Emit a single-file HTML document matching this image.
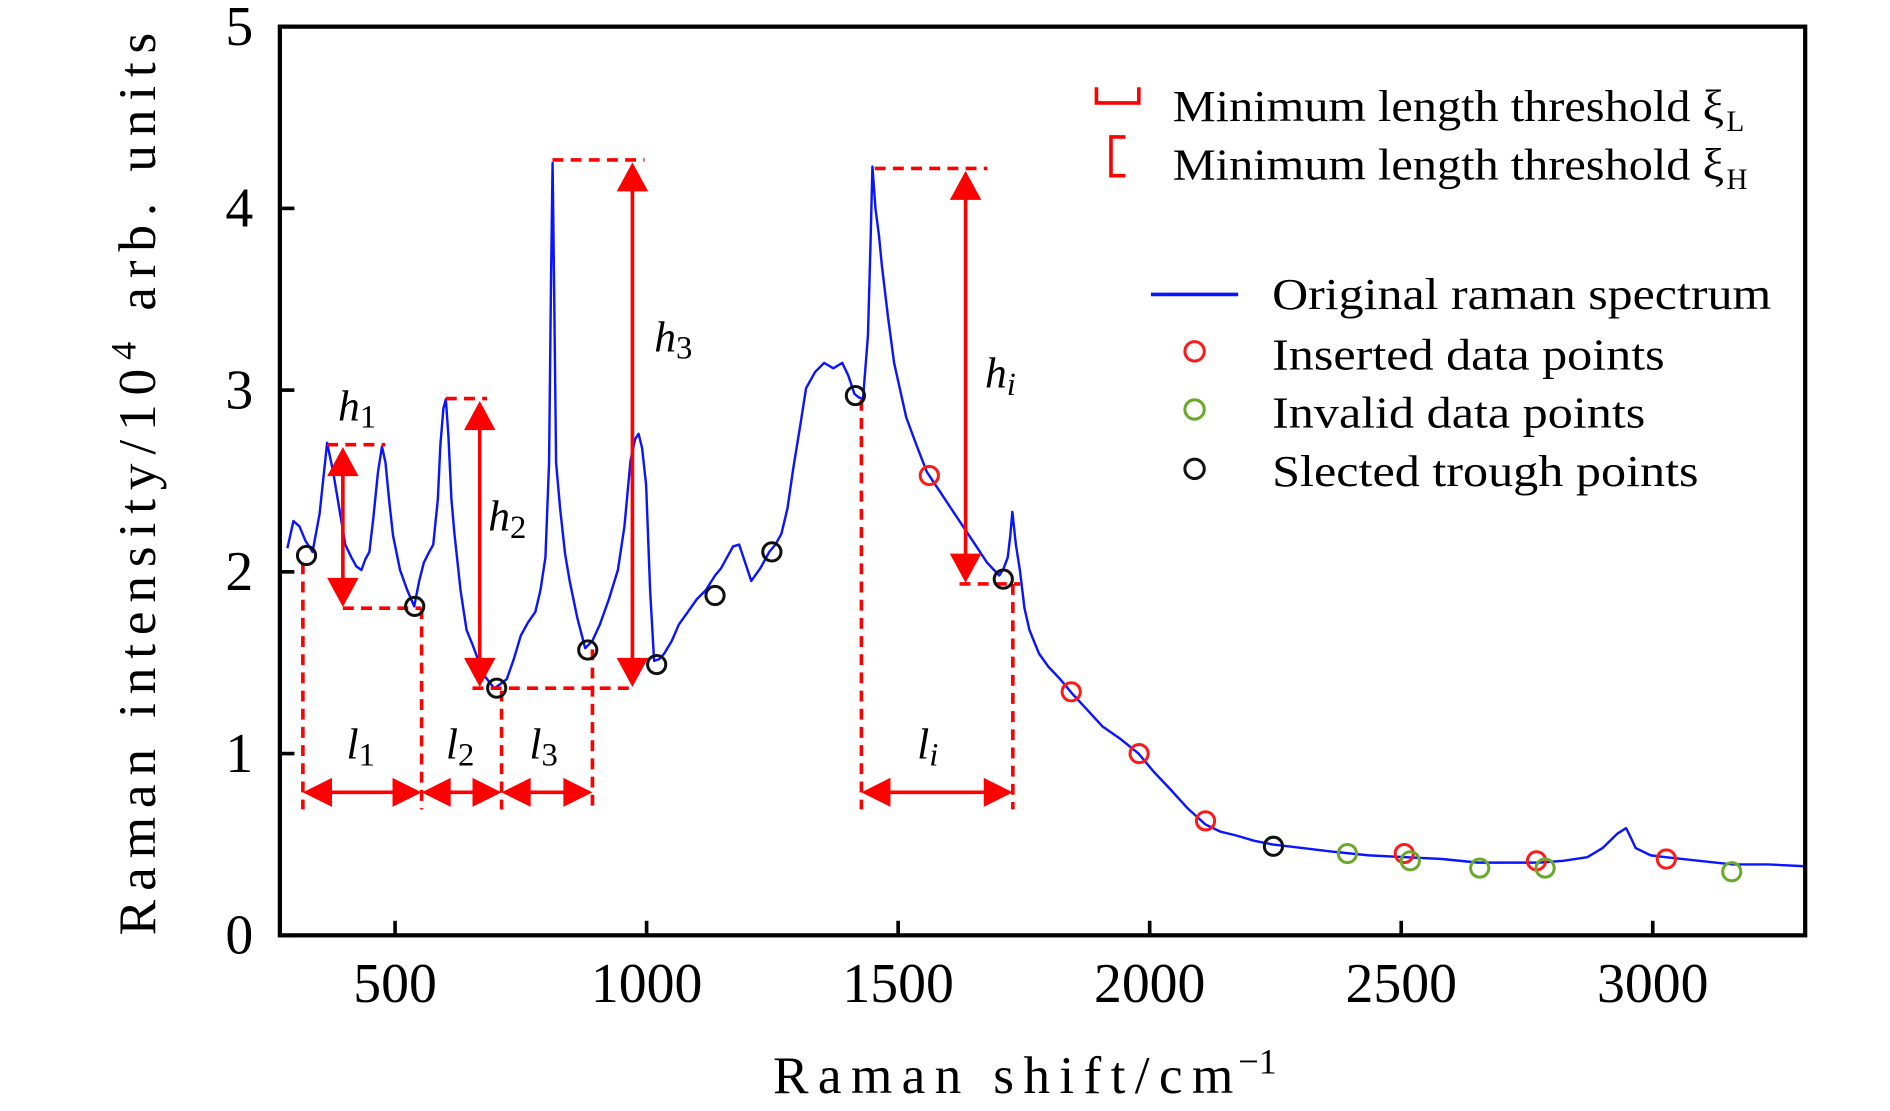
<!DOCTYPE html>
<html><head><meta charset="utf-8"><style>
html,body{margin:0;padding:0;background:#fff;}
svg{display:block;}
text{font-family:"Liberation Serif","DejaVu Serif",serif;}
</style></head><body>
<svg id="chart" width="1890" height="1111" viewBox="0 0 1560 917" preserveAspectRatio="none" xmlns="http://www.w3.org/2000/svg">
<g id="plot"></g>
</svg>
<script>
const specX=[286,298,310,322,336,350,365,377,389,401,413,423,433,441,449,457,466,474,481,488,496,510,524,538,548,557,566,576,585,590,596,601,606,612,618,630,642,654,666,680,697,708,722,736,750,764,779,789,799,806,810,813,816,820,828,838,847,862,878,892,907,925,943,956,968,977,984,991,999,1007,1015,1025,1035,1050,1064,1082,1100,1118,1136,1148,1160,1172,1184,1196,1208,1226,1244,1256,1268,1280,1292,1305,1317,1335,1353,1371,1389,1401,1413,1422,1430,1440,1445,1449,1455,1462,1468,1480,1492,1504,1516,1536,1557,1581,1605,1629,1653,1677,1701,1710,1718,1723,1727,1734,1742,1751,1761,1780,1798,1822,1846,1876,1906,1942,1978,2008,2039,2075,2111,2141,2171,2208,2244,2304,2364,2436,2509,2581,2653,2713,2774,2822,2870,2900,2930,2947,2956,2966,2996,3026,3092,3159,3230,3303];
const specY=[2.13,2.28,2.25,2.17,2.11,2.32,2.71,2.55,2.35,2.15,2.08,2.03,2.01,2.07,2.11,2.3,2.55,2.69,2.6,2.4,2.2,2.01,1.9,1.81,1.95,2.05,2.1,2.15,2.4,2.7,2.9,2.95,2.75,2.4,2.21,1.9,1.68,1.6,1.51,1.42,1.36,1.38,1.41,1.52,1.65,1.72,1.78,1.9,2.08,2.6,3.6,4.25,3.6,2.6,2.35,2.1,1.95,1.75,1.58,1.62,1.71,1.85,2.01,2.25,2.61,2.73,2.76,2.68,2.48,1.9,1.51,1.52,1.55,1.62,1.71,1.78,1.85,1.9,1.98,2.02,2.08,2.14,2.15,2.05,1.95,2.02,2.11,2.15,2.21,2.35,2.58,2.8,3.01,3.1,3.15,3.12,3.15,3.08,2.98,2.96,2.95,3.3,3.8,4.23,4.0,3.85,3.68,3.4,3.15,3.0,2.85,2.7,2.55,2.45,2.35,2.25,2.15,2.05,1.98,2.02,2.08,2.2,2.33,2.15,2.01,1.8,1.68,1.55,1.48,1.41,1.33,1.24,1.15,1.08,1.0,0.9,0.81,0.7,0.61,0.57,0.55,0.52,0.5,0.48,0.46,0.44,0.43,0.42,0.4,0.4,0.4,0.41,0.43,0.48,0.56,0.59,0.54,0.48,0.44,0.43,0.41,0.39,0.39,0.38];
const troughX=[324,539,702,883,1020,1136,1249,1415,1709,2246];
const troughY=[2.09,1.81,1.36,1.57,1.49,1.87,2.11,2.97,1.96,0.49];
const insertedX=[1562,1844,1979,2111,2506,2769,3027];
const insertedY=[2.53,1.34,1.0,0.63,0.45,0.41,0.42];
const invalidX=[2393,2518,2656,2786,3157];
const invalidY=[0.45,0.41,0.37,0.37,0.35];
const xTicks=[500,1000,1500,2000,2500,3000];
const yTicks=[0,1,2,3,4,5];

const L=231,R=1490,T=22,B=772,XMIN=271,XMAX=3303,YMIN=0,YMAX=5;
const sx=v=>L+(v-XMIN)/(XMAX-XMIN)*(R-L);
const sy=v=>B-(v-YMIN)/(YMAX-YMIN)*(B-T);
const NS="http://www.w3.org/2000/svg";
const g=document.getElementById('plot');
function mk(tag,attrs,parent){const e=document.createElementNS(NS,tag);for(const k in attrs)e.setAttribute(k,attrs[k]);(parent||g).appendChild(e);return e;}

let d='';specX.forEach((x,i)=>{d+=(i?'L':'M')+sx(x).toFixed(1)+','+sy(specY[i]).toFixed(1);});
const sp=mk('path',{d:d,fill:'none',stroke:'#0a14ff','stroke-width':2,'stroke-linejoin':'round'});



const red='#ff0000';
function dash(x1,y1,x2,y2){const e=mk('line',{x1,y1,x2,y2,stroke:red,'stroke-width':3,'stroke-dasharray':'9,6'});

}
function varrow(x,y1,y2){const e=mk('g',{});


mk('line',{x1:x,y1:y1+18,x2:x,y2:y2-18,stroke:red,'stroke-width':3},e);
mk('polygon',{points:`${x},${y1} ${x-13},${y1+24} ${x+13},${y1+24}`,fill:red},e);
mk('polygon',{points:`${x},${y2} ${x-13},${y2-24} ${x+13},${y2-24}`,fill:red},e);}
function harrow(x1,x2,y){const e=mk('g',{});


mk('line',{x1:x1+18,y1:y,x2:x2-18,y2:y,stroke:red,'stroke-width':3},e);
mk('polygon',{points:`${x1},${y} ${x1+24},${y-12} ${x1+24},${y+12}`,fill:red},e);
mk('polygon',{points:`${x2},${y} ${x2-24},${y-12} ${x2-24},${y+12}`,fill:red},e);}
dash(270,367,318,367);dash(283,502,348,502);
dash(368,329,402,329);dash(390,568,525,568);
dash(456,132,532,132);dash(722,139,815,139);dash(792,482,842,482);
dash(250,465,250,668);dash(348,502,348,668);dash(414,570,414,668);dash(489,536,489,668);dash(711,330,711,668);dash(836,482,836,668);
varrow(283,369,501);varrow(396,331,567);varrow(522,134,567);varrow(797,141,481);
harrow(250,348,654);harrow(348,414,654);harrow(414,489,654);harrow(711,836,654);
function lab(txt,sub,x,y,name){const t=mk('text',{x,y,'font-size':36,'font-style':'italic'});


t.textContent=txt;const s=mk('tspan',{'font-size':27,'font-style':'normal',dy:6},t);s.textContent=sub;if(sub==='i')s.setAttribute('font-style','italic');}
lab('h','1',279,347,'h1-label');lab('h','2',403,438,'h2-label');lab('h','3',540,290,'h3-label');lab('h','i',813,320,'hi-label');
lab('l','1',286,626,'l1-label');lab('l','2',368,626,'l2-label');lab('l','3',437,626,'l3-label');lab('l','i',757,626,'li-label');

function circles(xs,ys,col,name){xs.forEach((x,i)=>{const c=mk('circle',{cx:sx(x),cy:sy(ys[i]),r:7.5,fill:'none',stroke:col,'stroke-width':2.5});

});}
circles(troughX,troughY,'#111','trough-point');
circles(insertedX,insertedY,'#ff1a1a','inserted-point');
circles(invalidX,invalidY,'#6aaa2a','invalid-point');

const fr=mk('rect',{x:L,y:T,width:R-L,height:B-T,fill:'none',stroke:'#000','stroke-width':3.5});


xTicks.forEach(v=>{const x=sx(v);mk('line',{x1:x,y1:B,x2:x,y2:B-12,stroke:'#000','stroke-width':3});
const t=mk('text',{x:x,y:B+55,'font-size':46,'text-anchor':'middle'});


t.textContent=v;});
yTicks.forEach(v=>{const y=sy(v);mk('line',{x1:L,y1:y,x2:L+12,y2:y,stroke:'#000','stroke-width':3});
const t=mk('text',{x:L-22,y:y+15,'font-size':46,'text-anchor':'end'});


t.textContent=v;});
const xt=mk('text',{x:638,y:902,'font-size':44,textLength:380,lengthAdjust:'spacing'});


xt.textContent='Raman shift/cm';
const xs2=mk('text',{x:1022,y:886,'font-size':30});
xs2.textContent='−1';


const yt=mk('text',{x:0,y:0,'font-size':44,transform:'translate(128,772) rotate(-90)',textLength:745,lengthAdjust:'spacing'});


yt.innerHTML='Raman intensity/10<tspan dy="-16" font-size="30">4</tspan><tspan dy="16"> arb. units</tspan>';

const lg=mk('g',{});


mk('path',{d:'M905,72 L905,85 L940,85 L940,72',fill:'none',stroke:red,'stroke-width':3},lg);
mk('path',{d:'M929,113 L917,113 L917,145 L929,145',fill:'none',stroke:red,'stroke-width':3},lg);
mk('line',{x1:950,y1:243,x2:1022,y2:243,stroke:'#0a14ff','stroke-width':3},lg);
mk('circle',{cx:986,cy:290,r:8,fill:'none',stroke:'#ff1a1a','stroke-width':2.5},lg);
mk('circle',{cx:986,cy:338,r:8,fill:'none',stroke:'#6aaa2a','stroke-width':2.5},lg);
mk('circle',{cx:986,cy:387,r:8,fill:'none',stroke:'#111','stroke-width':2.5},lg);
const lt=[['Minimum length threshold ξ','L',968,100,455],['Minimum length threshold ξ','H',968,148,455],['Original raman spectrum','',1050,255,412],['Inserted data points','',1050,305,324],['Invalid data points','',1050,353,308],['Slected trough points','',1050,401,352]];
lt.forEach(a=>{const t=mk('text',{x:a[2],y:a[3],'font-size':37,textLength:a[4],lengthAdjust:'spacingAndGlyphs'},lg);


t.textContent=a[0];
if(a[1]){const s=mk('text',{x:a[2]+a[4]+2,y:a[3]+8,'font-size':24},lg);s.textContent=a[1];

}});
</script>
</body></html>
